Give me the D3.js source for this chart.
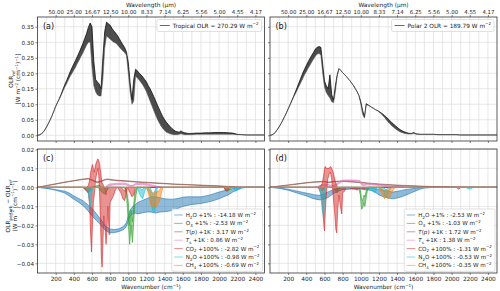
<!DOCTYPE html>
<html>
<head>
<meta charset="utf-8">
<script src="https://cdn.jsdelivr.net/npm/d3@7"></script>
<style>
  body { margin: 0; background: #fff; }
  text { font-family: "DejaVu Sans", sans-serif; }
</style>
</head>
<body>
<div id="chart"></div>
<script>

// Data
// ==============================
// spectra are [wavenumber, lower envelope, upper envelope] of the dense line spectrum
var tropOLR = [
  [0,0,0],[20,0.001,0.001],[40,0.004,0.004],[60,0.009,0.009],[80,0.017,0.017],[100,0.027,0.027],
  [120,0.038,0.038],[140,0.050,0.050],[160,0.063,0.063],[180,0.078,0.078],[200,0.093,0.093],
  [220,0.105,0.106],[240,0.116,0.118],[260,0.128,0.132],[280,0.142,0.148],[300,0.155,0.163],
  [320,0.166,0.176],[340,0.178,0.190],[360,0.190,0.205],[380,0.200,0.218],[400,0.210,0.230],
  [420,0.220,0.242],[440,0.232,0.255],[460,0.243,0.268],[480,0.255,0.282],[500,0.265,0.296],
  [520,0.278,0.312],[540,0.290,0.328],[560,0.300,0.348],[580,0.300,0.362],[600,0.220,0.350],
  [620,0.160,0.240],[640,0.140,0.180],[660,0.130,0.172],[680,0.127,0.165],[700,0.127,0.150],
  [720,0.180,0.250],[740,0.280,0.335],[760,0.320,0.365],[780,0.315,0.360],[800,0.310,0.355],
  [820,0.305,0.345],[840,0.300,0.337],[860,0.298,0.330],[880,0.292,0.322],[900,0.285,0.312],
  [920,0.278,0.302],[940,0.272,0.292],[960,0.266,0.283],[980,0.258,0.268],[1000,0.200,0.235],
  [1020,0.140,0.170],[1040,0.100,0.115],[1060,0.110,0.180],[1080,0.190,0.213],[1100,0.185,0.208],
  [1120,0.178,0.200],[1140,0.170,0.195],[1160,0.162,0.188],[1180,0.152,0.180],[1200,0.140,0.172],
  [1220,0.125,0.160],[1240,0.110,0.150],[1260,0.095,0.138],[1280,0.080,0.125],[1300,0.065,0.112],
  [1320,0.052,0.098],[1340,0.040,0.085],[1360,0.030,0.072],[1380,0.022,0.060],[1400,0.015,0.050],
  [1420,0.010,0.042],[1440,0.007,0.035],[1460,0.005,0.028],[1480,0.003,0.022],[1500,0.002,0.017],
  [1520,0.002,0.013],[1540,0.002,0.011],[1560,0.003,0.010],[1580,0.005,0.014],[1600,0.003,0.010],
  [1620,0.002,0.008],[1640,0.002,0.007],[1660,0.002,0.006],[1680,0.002,0.006],[1700,0.002,0.006],
  [1750,0.003,0.007],[1800,0.003,0.007],[1850,0.003,0.008],[1900,0.003,0.008],[1950,0.003,0.009],
  [2000,0.003,0.009],[2050,0.003,0.009],[2100,0.003,0.008],[2150,0.003,0.007],[2200,0.002,0.003],
  [2250,0.002,0.002],[2300,0.001,0.001],[2350,0.001,0.001],[2400,0.001,0.001],[2450,0.001,0.001],
  [2500,0.001,0.001]
];

var polarOLR = [
  [0,0,0],[20,0.001,0.001],[40,0.004,0.004],[60,0.010,0.010],[80,0.018,0.018],[100,0.027,0.027],
  [120,0.037,0.037],[140,0.048,0.048],[160,0.060,0.060],[180,0.072,0.072],[200,0.085,0.085],
  [220,0.098,0.098],[240,0.110,0.112],[260,0.123,0.126],[280,0.134,0.140],[300,0.146,0.155],
  [320,0.158,0.170],[340,0.170,0.185],[360,0.182,0.200],[380,0.195,0.213],[400,0.205,0.225],
  [420,0.216,0.237],[440,0.226,0.248],[460,0.236,0.258],[480,0.246,0.268],[500,0.255,0.278],
  [520,0.262,0.284],[540,0.264,0.286],[560,0.258,0.284],[580,0.200,0.230],[600,0.155,0.175],
  [620,0.138,0.160],[640,0.128,0.150],[660,0.120,0.195],[680,0.108,0.130],[700,0.105,0.115],
  [720,0.140,0.160],[740,0.190,0.195],[760,0.215,0.215],[780,0.209,0.209],[800,0.202,0.202],
  [820,0.196,0.196],[840,0.190,0.190],[860,0.183,0.183],[880,0.176,0.176],[900,0.168,0.168],
  [920,0.160,0.160],[940,0.150,0.150],[960,0.140,0.140],[980,0.128,0.128],[1000,0.100,0.108],
  [1020,0.068,0.080],[1040,0.055,0.060],[1060,0.098,0.102],[1080,0.097,0.098],[1100,0.094,0.094],
  [1120,0.090,0.090],[1140,0.087,0.087],[1160,0.083,0.083],[1180,0.080,0.080],[1200,0.075,0.077],
  [1220,0.070,0.073],[1240,0.064,0.069],[1260,0.058,0.064],[1280,0.050,0.059],[1300,0.043,0.053],
  [1320,0.037,0.047],[1340,0.031,0.041],[1360,0.026,0.036],[1380,0.021,0.031],[1400,0.017,0.026],
  [1420,0.013,0.021],[1440,0.010,0.017],[1460,0.008,0.014],[1480,0.006,0.011],[1500,0.005,0.009],
  [1520,0.004,0.007],[1540,0.004,0.006],[1560,0.004,0.006],[1580,0.006,0.009],[1600,0.004,0.006],
  [1620,0.003,0.004],[1640,0.003,0.004],[1660,0.003,0.003],[1680,0.003,0.003],[1700,0.003,0.003],
  [1750,0.003,0.003],[1800,0.003,0.003],[1850,0.002,0.002],[1900,0.002,0.002],[1950,0.002,0.002],
  [2000,0.002,0.002],[2050,0.002,0.002],[2100,0.001,0.001],[2200,0.001,0.001],[2300,0.001,0.001],
  [2400,0.001,0.001],[2500,0.001,0.001]
];

// perturbation spectra (tropical), [wavenumber, low, high]
var tropH2O = [
  [0,0,0],[50,-0.0002,-0.0002],[100,-0.0005,-0.0005],[150,-0.0010,-0.0008],[200,-0.0015,-0.0012],
  [250,-0.0022,-0.0016],[300,-0.0030,-0.0020],[350,-0.0045,-0.0030],[400,-0.0062,-0.0045],
  [450,-0.0078,-0.0058],[500,-0.0095,-0.0070],[550,-0.0120,-0.0090],[600,-0.0150,-0.0110],
  [650,-0.0175,-0.0140],[700,-0.0200,-0.0170],[750,-0.0228,-0.0205],[800,-0.0240,-0.0220],
  [850,-0.0238,-0.0222],[900,-0.0232,-0.0218],[950,-0.0222,-0.0205],[980,-0.0205,-0.0185],
  [1000,-0.0180,-0.0150],[1020,-0.0150,-0.0120],[1050,-0.0140,-0.0100],[1080,-0.0135,-0.0090],
  [1100,-0.0140,-0.0080],[1150,-0.0135,-0.0070],[1200,-0.0130,-0.0060],[1250,-0.0130,-0.0050],
  [1300,-0.0135,-0.0050],[1350,-0.0130,-0.0055],[1400,-0.0128,-0.0060],[1450,-0.0125,-0.0062],
  [1500,-0.0120,-0.0062],[1550,-0.0110,-0.0058],[1600,-0.0100,-0.0052],[1650,-0.0095,-0.0050],
  [1700,-0.0090,-0.0050],[1750,-0.0088,-0.0050],[1800,-0.0085,-0.0050],[1850,-0.0080,-0.0045],
  [1900,-0.0075,-0.0040],[1950,-0.0068,-0.0032],[2000,-0.0060,-0.0025],[2050,-0.0050,-0.0018],
  [2100,-0.0040,-0.0012],[2150,-0.0025,-0.0006],[2200,-0.0012,-0.0003],[2250,-0.0004,-0.0001],
  [2300,0,0],[2500,0,0]
];
var tropO3 = [
  [0,0,0],[500,0,0],[540,-0.0015,0],[560,-0.003,0],[580,-0.001,0],[600,0,0],[660,0,0.001],
  [680,-0.0005,0.0012],[700,-0.002,0],[720,-0.003,0],[740,-0.0035,-0.0005],[760,-0.002,0],
  [780,-0.0005,0],[800,0,0],[960,0,0],[980,-0.004,-0.001],[1000,-0.018,-0.008],[1015,-0.030,-0.020],
  [1030,-0.020,-0.012],[1045,-0.029,-0.018],[1055,-0.022,-0.012],[1070,-0.010,-0.003],
  [1085,-0.004,-0.001],[1100,0,0],[2050,0,0],[2080,-0.002,0],[2110,-0.0015,0],[2140,0,0],[2500,0,0]
];
var tropTp = [
  [0,0,0],[100,0.0008,0.0010],[200,0.0017,0.0019],[300,0.0026,0.0028],[400,0.0034,0.0036],
  [500,0.0041,0.0044],[560,0.0044,0.0047],[600,0.0036,0.0040],[640,0.0028,0.0032],[660,0.0024,0.0030],
  [700,0.0030,0.0034],[750,0.0040,0.0043],[780,0.0041,0.0044],[800,0.0039,0.0042],[850,0.0036,0.0039],
  [900,0.0034,0.0037],[1000,0.0031,0.0034],[1100,0.0027,0.0030],[1200,0.0024,0.0027],
  [1300,0.0021,0.0024],[1400,0.0019,0.0021],[1500,0.0016,0.0018],[1600,0.0014,0.0016],
  [1700,0.0012,0.0014],[1800,0.0010,0.0012],[1900,0.0008,0.0010],[2000,0.0006,0.0008],
  [2100,0.0004,0.0005],[2200,0.0001,0.0002],[2300,0,0],[2500,0,0]
];
var tropTs = [
  [0,0,0],[750,0,0],[770,0.0005,0.0012],[800,0.0010,0.0018],[850,0.0014,0.0020],[900,0.0015,0.0022],
  [950,0.0015,0.0022],[980,0.0012,0.0020],[1000,0.0008,0.0015],[1030,0.0005,0.0010],
  [1060,0.0008,0.0014],[1080,0.0014,0.0020],[1100,0.0015,0.0022],[1150,0.0015,0.0021],
  [1200,0.0012,0.0019],[1250,0.0006,0.0014],[1300,0.0002,0.0008],[1350,0,0.0003],[1400,0,0],[2500,0,0]
];
var tropCO2 = [
  [0,0,0],[500,0,0],[520,-0.001,0],[540,-0.002,0],[560,-0.003,0.001],[575,-0.010,0.004],
  [585,-0.025,0.008],[595,-0.034,0.010],[605,-0.020,0.012],[615,-0.008,0.010],[625,-0.004,0.008],
  [640,0.004,0.012],[655,0.008,0.014],[665,0.010,0.015],[675,0.006,0.014],[685,-0.005,0.012],
  [695,-0.020,0.008],[705,-0.038,0.004],[712,-0.042,0.002],[720,-0.030,0.002],[730,-0.015,0],
  [745,-0.022,0],[755,-0.030,-0.004],[765,-0.022,0],[775,-0.010,0],[790,-0.025,0],[800,-0.008,0],
  [820,-0.006,0],[840,-0.004,0],[860,-0.001,0],[880,0,0],[920,-0.003,0],[940,-0.006,-0.001],
  [960,-0.007,-0.002],[975,-0.004,0],[990,0,0],[1040,-0.005,0],[1060,-0.004,0],[1080,0,0],
  [2050,0,0],[2080,-0.002,0],[2100,-0.001,0],[2120,0,0],[2500,0,0]
];
var tropN2O = [
  [0,0,0],[540,0,0],[560,-0.003,0],[575,-0.008,-0.001],[585,-0.010,-0.002],[595,-0.004,0],[610,0,0],
  [1100,0,0],[1120,-0.003,0],[1140,-0.005,-0.001],[1160,-0.006,-0.001],[1180,-0.002,0],[1200,0,0],
  [1240,-0.004,0],[1265,-0.012,-0.003],[1285,-0.013,-0.004],[1305,-0.006,0],[1320,0,0],
  [2150,0,0],[2180,-0.002,0],[2220,-0.001,0],[2250,0,0],[2500,0,0]
];
var tropCH4 = [
  [0,0,0],[1200,0,0],[1215,-0.002,0],[1230,-0.005,-0.001],[1245,-0.009,-0.002],[1260,-0.010,-0.003],
  [1275,-0.011,-0.003],[1290,-0.009,-0.002],[1305,-0.011,-0.003],[1320,-0.009,-0.002],
  [1335,-0.008,-0.002],[1350,-0.006,-0.001],[1365,-0.003,0],[1380,0,0],[2500,0,0]
];

// perturbation spectra (polar)
var polarH2O = [
  [0,0,0],[100,-0.0005,-0.0003],[200,-0.0015,-0.0010],[300,-0.0030,-0.0020],[400,-0.0045,-0.0030],
  [450,-0.0055,-0.0035],[500,-0.0062,-0.0040],[550,-0.0066,-0.0042],[600,-0.0062,-0.0032],
  [650,-0.0050,-0.0022],[700,-0.0032,-0.0012],[750,-0.0020,-0.0006],[800,-0.0012,-0.0003],
  [900,-0.0009,-0.0002],[1000,-0.0009,-0.0002],[1100,-0.0015,-0.0004],[1150,-0.0022,-0.0006],
  [1200,-0.0040,-0.0012],[1250,-0.0050,-0.0016],[1300,-0.0056,-0.0020],[1350,-0.0060,-0.0025],
  [1400,-0.0056,-0.0021],[1450,-0.0050,-0.0016],[1500,-0.0040,-0.0011],[1550,-0.0030,-0.0008],
  [1600,-0.0020,-0.0005],[1650,-0.0010,-0.0002],[1700,-0.0004,0],[1800,0,0],[2500,0,0]
];
var polarO3 = [
  [0,0,0],[540,0,0],[560,-0.001,0],[580,-0.002,0],[600,0,0],[700,0,0],[720,-0.002,0],
  [740,-0.003,-0.0005],[760,-0.001,0],[780,0,0],[975,0,0],[995,-0.004,-0.001],[1008,-0.0115,-0.006],
  [1020,-0.011,-0.007],[1035,-0.008,-0.004],[1045,-0.010,-0.005],[1058,-0.006,-0.002],
  [1072,-0.002,0],[1090,0,0],[2500,0,0]
];
var polarTp = [
  [0,0,0],[100,0.0005,0.0007],[200,0.0011,0.0013],[300,0.0017,0.0019],[400,0.0023,0.0025],
  [500,0.0027,0.0030],[600,0.0029,0.0032],[650,0.0024,0.0028],[700,0.0029,0.0032],[800,0.0031,0.0034],
  [900,0.0028,0.0031],[1000,0.0024,0.0027],[1100,0.0019,0.0022],[1200,0.0015,0.0018],
  [1300,0.0012,0.0015],[1400,0.0010,0.0012],[1500,0.0008,0.0010],[1600,0.0006,0.0008],
  [1700,0.0004,0.0006],[1800,0.0003,0.0004],[2000,0.0001,0.0002],[2200,0,0],[2500,0,0]
];
var polarTs = [
  [0,0,0],[500,0,0],[560,0.0005,0.0012],[600,0.0010,0.0018],[640,0.0005,0.0015],[700,0,0.0010],
  [760,0.0020,0.0030],[800,0.0033,0.0038],[850,0.0035,0.0039],[900,0.0035,0.0039],[950,0.0034,0.0038],
  [990,0.0030,0.0036],[1010,0.0012,0.0020],[1040,0.0008,0.0015],[1060,0.0012,0.0020],
  [1100,0.0014,0.0020],[1150,0.0012,0.0018],[1200,0.0010,0.0015],[1250,0.0006,0.0012],
  [1300,0.0004,0.0009],[1400,0.0002,0.0005],[1500,0.0001,0.0002],[1600,0,0],[2500,0,0]
];
var polarCO2 = [
  [0,0,0],[520,0,0],[540,-0.001,0],[560,-0.003,0.001],[575,-0.008,0.002],[590,-0.018,0.006],
  [600,-0.023,0.010],[610,-0.012,0.011],[620,-0.004,0.010],[635,0.004,0.010],[650,0.007,0.010],
  [665,0.008,0.011],[680,0.004,0.010],[695,-0.004,0.008],[710,-0.012,0.005],[725,-0.022,0.002],
  [735,-0.024,0.001],[745,-0.012,0],[760,-0.004,0],[775,-0.010,0],[790,-0.014,0],[800,-0.003,0],
  [820,-0.002,0],[840,0,0],[940,-0.001,0],[960,-0.0015,0],[980,0,0],[1040,-0.001,0],[1060,0,0],
  [2050,0,0],[2080,-0.001,0],[2100,0,0],[2500,0,0]
];
var polarN2O = [
  [0,0,0],[540,0,0],[560,-0.004,0],[575,-0.012,-0.002],[590,-0.016,-0.003],[600,-0.006,0],[615,0,0],
  [1100,0,0],[1130,-0.002,0],[1160,-0.003,0],[1180,0,0],[1250,-0.002,0],[1270,-0.005,-0.001],
  [1290,-0.005,-0.001],[1310,-0.002,0],[1330,0,0],[2150,0,0],[2200,-0.001,0],[2240,0,0],[2500,0,0]
];
var polarCH4 = [
  [0,0,0],[1200,0,0],[1220,-0.002,0],[1240,-0.004,-0.001],[1260,-0.006,-0.002],[1280,-0.005,-0.001],
  [1300,-0.006,-0.002],[1320,-0.005,-0.001],[1340,-0.003,0],[1360,-0.001,0],[1380,0,0],[2500,0,0]
];

var speciesColors = ["#1f77b4", "#2ca02c", "#8c564b", "#e377c2", "#d62728", "#17becf", "#ff7f0e"];
// label pieces: [text, style]
var speciesLabels = [
  [["H",""],["2","sub"],["O +1% : ",""]],
  [["O",""],["3","sub"],[" +1% : ",""]],
  [["T","it"],["(",""],["p","it"],[") +1K : ",""]],
  [["T","it"],["s","sub"],[" +1K : ",""]],
  [["CO",""],["2","sub"],[" +100% : ",""]],
  [["N",""],["2","sub"],["O +100% : ",""]],
  [["CH",""],["4","sub"],[" +100% : ",""]]
];
var tropValues = ["-14.18", "-2.53", "3.17", "0.86", "-2.82", "-0.98", "-0.69"];
var polarValues = ["-2.53", "-1.03", "1.72", "1.38", "-1.31", "-0.53", "-0.35"];

var xTicks = [200, 400, 600, 800, 1000, 1200, 1400, 1600, 1800, 2000, 2200, 2400];
var waveLabels = ["50.00", "25.00", "16.67", "12.50", "10.00", "8.33", "7.14", "6.25", "5.56", "5.00", "4.55", "4.17"];
var olrTicks = [0, 0.05, 0.10, 0.15, 0.20, 0.25, 0.30, 0.35];
var diffTicks = [-0.04, -0.03, -0.02, -0.01, 0, 0.01, 0.02];

// Layout
// ==============================
var svgWidth = 500, svgHeight = 291;
var fs = 5.8;

var svg = d3.select("#chart").append("svg")
  .attr("width", svgWidth)
  .attr("height", svgHeight);

var panels = [
  {id: "a", x0: 37.5, x1: 264.5, y0: 17, y1: 141, top: true, left: true, data: tropOLR,
    legend: "Tropical OLR = 270.29 W  m"},
  {id: "b", x0: 270, x1: 497, y0: 17, y1: 141, top: true, left: false, data: polarOLR,
    legend: "Polar 2 OLR = 189.79 W  m"},
  {id: "c", x0: 37.5, x1: 264.5, y0: 149, y1: 273, top: false, left: true,
    series: [tropH2O, tropO3, tropTp, tropTs, tropCO2, tropN2O, tropCH4], values: tropValues},
  {id: "d", x0: 270, x1: 497, y0: 149, y1: 273, top: false, left: false,
    series: [polarH2O, polarO3, polarTp, polarTs, polarCO2, polarN2O, polarCH4], values: polarValues}
];

// write text with sub/superscripts
function richText(sel, parts, size) {
  var shift = 0;
  parts.forEach(function(p) {
    var s = p[1] === "sub" ? size * 0.28 : p[1] === "sup" ? -size * 0.4 : 0;
    var t = sel.append("tspan").text(p[0]).attr("dy", s - shift);
    if (p[1] === "sub" || p[1] === "sup") t.attr("font-size", size * 0.7);
    if (p[1] === "it") t.attr("font-style", "italic");
    shift = s;
  });
  return sel;
}

panels.forEach(function(p) {
  var x = d3.scaleLinear().domain([0, 2500]).range([p.x0, p.x1]);
  var y = p.top
    ? d3.scaleLinear().domain([-0.0185, 0.3815]).range([p.y1, p.y0])
    : d3.scaleLinear().domain([-0.0451, 0.0202]).range([p.y1, p.y0]);
  var yTicks = p.top ? olrTicks : diffTicks;

  var g = svg.append("g");

  // grid
  g.selectAll(".vgrid").data(d3.range(100, 2500, 100)).enter().append("line")
    .attr("x1", d => x(d)).attr("x2", d => x(d))
    .attr("y1", p.y0).attr("y2", p.y1)
    .attr("stroke", "#dcdcdc").attr("stroke-width", 0.7);
  g.selectAll(".hgrid").data(yTicks).enter().append("line")
    .attr("x1", p.x0).attr("x2", p.x1)
    .attr("y1", d => y(d)).attr("y2", d => y(d))
    .attr("stroke", "#dcdcdc").attr("stroke-width", 0.7);

  var clipId = "clip-" + p.id;
  svg.append("clipPath").attr("id", clipId).append("rect")
    .attr("x", p.x0).attr("y", p.y0).attr("width", p.x1 - p.x0).attr("height", p.y1 - p.y0);
  var plot = g.append("g").attr("clip-path", "url(#" + clipId + ")");

  var area = d3.area().x(d => x(d[0])).y0(d => y(d[1])).y1(d => y(d[2]));
  var lineLo = d3.line().x(d => x(d[0])).y(d => y(d[1]));
  var lineHi = d3.line().x(d => x(d[0])).y(d => y(d[2]));

  if (p.top) {
    plot.append("path").datum(p.data).attr("d", area)
      .attr("fill", "#111").attr("fill-opacity", 0.75);
    plot.append("path").datum(p.data).attr("d", lineHi)
      .attr("fill", "none").attr("stroke", "#000").attr("stroke-width", 0.7);
    plot.append("path").datum(p.data).attr("d", lineLo)
      .attr("fill", "none").attr("stroke", "#555").attr("stroke-width", 0.5);
  } else {
    p.series.forEach(function(s, i) {
      var c = speciesColors[i];
      plot.append("path").datum(s).attr("d", area)
        .attr("fill", c).attr("fill-opacity", 0.5);
      plot.append("path").datum(s).attr("d", lineHi)
        .attr("fill", "none").attr("stroke", c).attr("stroke-width", 0.7).attr("stroke-opacity", 0.85);
      plot.append("path").datum(s).attr("d", lineLo)
        .attr("fill", "none").attr("stroke", c).attr("stroke-width", 0.7).attr("stroke-opacity", 0.85);
    });
  }

  // axes
  var leftAxis = d3.axisLeft(y).tickValues(yTicks).tickSize(2).tickPadding(1.5)
    .tickFormat(p.left ? d3.format(".2f") : "");
  var gl = g.append("g").attr("transform", `translate(${p.x0},0)`).call(leftAxis);
  gl.selectAll("text").attr("font-size", 5.6);

  var bottomAxis = d3.axisBottom(x).tickValues(xTicks).tickSize(2).tickPadding(1.5)
    .tickFormat(p.top ? "" : d3.format("d"));
  var gb = g.append("g").attr("transform", `translate(0,${p.y1})`).call(bottomAxis);
  gb.selectAll("text").attr("font-size", fs);

  var axes = [gl, gb];
  if (p.top) {
    var topAxis = d3.axisTop(x).tickValues(xTicks).tickSize(2).tickPadding(1.2)
      .tickFormat((d, i) => waveLabels[i]);
    var gt = g.append("g").attr("transform", `translate(0,${p.y0})`).call(topAxis);
    gt.selectAll("text").attr("font-size", 5.4);
    axes.push(gt);
  }
  axes.forEach(function(a) {
    a.select(".domain").remove();
    a.selectAll("line").attr("stroke", "#333").attr("stroke-width", 0.6);
    a.selectAll("text").attr("fill", "#222").attr("font-family", "DejaVu Sans");
  });

  // frame
  g.append("rect").attr("x", p.x0).attr("y", p.y0)
    .attr("width", p.x1 - p.x0).attr("height", p.y1 - p.y0)
    .attr("fill", "none").attr("stroke", "#333").attr("stroke-width", 0.8);

  // panel letter
  g.append("text").attr("x", p.x0 + 5.5).attr("y", p.y0 + 12)
    .attr("font-size", 8).attr("fill", "#111").text("(" + p.id + ")");

  // top axis title / bottom axis title
  var cx = (p.x0 + p.x1) / 2;
  if (p.top) {
    g.append("text").attr("x", cx).attr("y", 6.5).attr("text-anchor", "middle")
      .attr("font-size", fs).attr("fill", "#222").text("Wavelength (μm)");
  } else {
    richText(g.append("text").attr("x", cx).attr("y", 289).attr("text-anchor", "middle")
      .attr("font-size", fs).attr("fill", "#222"), [["Wavenumber (cm", ""], ["−1", "sup"], [")", ""]], fs);
  }

  // legends
  if (p.top) {
    var lg = g.append("g");
    var box = lg.append("rect");
    var lt = richText(lg.append("text").attr("font-size", 5.8).attr("fill", "#222"),
      [[p.legend, ""], ["−2", "sup"]], 5.8);
    var tw = lt.node().getComputedTextLength();
    var bx = p.x1 - 3 - (tw + 19);
    box.attr("x", bx).attr("y", p.y0 + 2.5).attr("width", tw + 19).attr("height", 12)
      .attr("rx", 1.5).attr("fill", "#fff").attr("fill-opacity", 0.85)
      .attr("stroke", "#ccc").attr("stroke-width", 0.6);
    lg.append("line").attr("x1", bx + 3).attr("x2", bx + 13)
      .attr("y1", p.y0 + 8.5).attr("y2", p.y0 + 8.5)
      .attr("stroke", "#444").attr("stroke-width", 0.8);
    lt.attr("x", bx + 16).attr("y", p.y0 + 10.6);
  } else {
    var lg2 = g.append("g");
    var box2 = lg2.append("rect");
    var step = 8.4;
    var firstY = 215;
    var maxW = 0;
    speciesLabels.forEach(function(lab, i) {
      var t = richText(lg2.append("text").attr("font-size", 5.6).attr("fill", "#222"),
        lab.concat([[p.values[i] + " W m", ""], ["−2", "sup"]]), 5.6);
      maxW = Math.max(maxW, t.node().getComputedTextLength());
      t.attr("y", firstY + i * step + 2).attr("class", "lgtext");
    });
    var w = maxW + 17;
    var lx = p.x1 - 2 - w;
    box2.attr("x", lx).attr("y", firstY - 6).attr("width", w).attr("height", step * 7 + 3.5)
      .attr("rx", 1.5).attr("fill", "#fff").attr("fill-opacity", 0.85)
      .attr("stroke", "#ccc").attr("stroke-width", 0.6);
    lg2.selectAll(".lgtext").attr("x", lx + 14);
    speciesColors.forEach(function(c, i) {
      lg2.append("line").attr("x1", lx + 2.5).attr("x2", lx + 11)
        .attr("y1", firstY + i * step).attr("y2", firstY + i * step)
        .attr("stroke", c).attr("stroke-opacity", 0.55).attr("stroke-width", 1);
    });
  }
});

// y axis labels
function yLabel(xPos, yPos, parts) {
  richText(svg.append("text").attr("transform", `translate(${xPos},${yPos}) rotate(-90)`)
    .attr("text-anchor", "middle").attr("font-size", fs).attr("fill", "#222"), parts, fs);
}
yLabel(13, 79, [["OLR", ""], ["ref", "sub"]]);
yLabel(20, 79, [["[W m", ""], ["−2", "sup"], [" (cm", ""], ["−1", "sup"], [")", ""], ["−1", "sup"], ["]", ""]]);
yLabel(10, 206, [["OLR", ""], ["perturb", "sub"], [" − OLR", ""], ["ref", "sub"]]);
yLabel(16.5, 206, [["(W m", ""], ["−2", "sup"], [" (cm", ""], ["−1", "sup"], [")", ""], ["−1", "sup"], [")", ""]]);

</script>
</body>
</html>
